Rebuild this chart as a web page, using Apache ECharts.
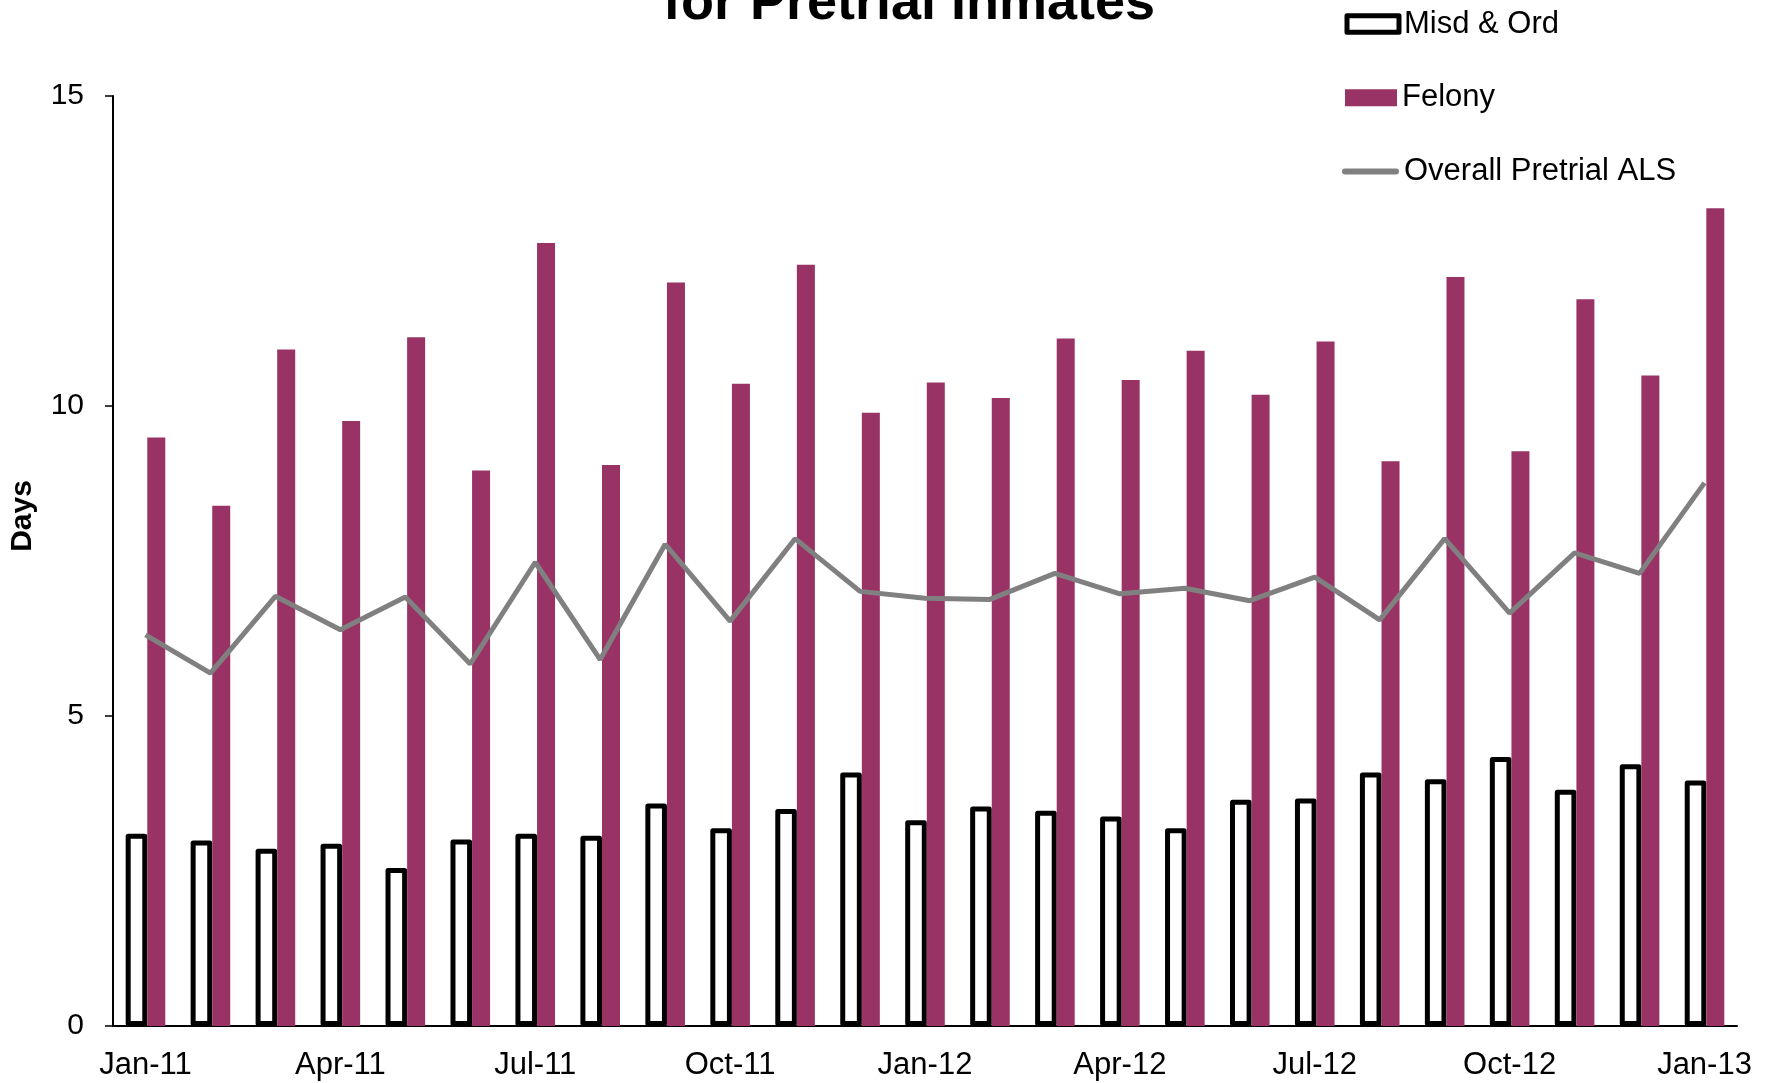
<!DOCTYPE html>
<html>
<head>
<meta charset="utf-8">
<script src="https://cdn.jsdelivr.net/npm/echarts@6/dist/echarts.min.js"></script>
<style>
  html, body { margin: 0; padding: 0; background: #fff; }
  #chart { width: 1774px; height: 1083px; }
</style>
</head>
<body>
<div id="chart"></div>
<script>
// months shown on the x axis (one bar pair per month)
const months = [
  'Jan-11', 'Feb-11', 'Mar-11', 'Apr-11', 'May-11', 'Jun-11', 'Jul-11', 'Aug-11', 'Sep-11', 'Oct-11', 'Nov-11', 'Dec-11',
  'Jan-12', 'Feb-12', 'Mar-12', 'Apr-12', 'May-12', 'Jun-12', 'Jul-12', 'Aug-12', 'Sep-12', 'Oct-12', 'Nov-12', 'Dec-12',
  'Jan-13'
]

const misdOrd = [3.10, 2.99, 2.86, 2.94, 2.55, 3.01, 3.10, 3.07, 3.59, 3.19, 3.50, 4.09,
  3.32, 3.54, 3.47, 3.38, 3.19, 3.65, 3.67, 4.09, 3.98, 4.34, 3.81, 4.22, 3.96]

const felony = [9.49, 8.39, 10.91, 9.76, 11.11, 8.96, 12.63, 9.05, 11.99, 10.36, 12.28, 9.89,
  10.38, 10.13, 11.09, 10.42, 10.89, 10.18, 11.04, 9.11, 12.08, 9.27, 11.72, 10.49, 13.19]

const overall = [6.31, 5.69, 6.93, 6.39, 6.92, 5.84, 7.48, 5.91, 7.77, 6.53, 7.86, 7.01,
  6.90, 6.88, 7.30, 6.97, 7.06, 6.86, 7.24, 6.55, 7.86, 6.66, 7.63, 7.30, 8.76]

const font = 'Liberation Sans, Arial, sans-serif'

const myChart = echarts.init(document.getElementById('chart'))

// legend text, shared by the three legend blocks
const legendText = {
  color: '#000',
  fontFamily: font,
  fontSize: 31,
  lineHeight: 30
}

const option = {
  animation: false,
  title: {
    text: 'for Pretrial Inmates',
    left: 904,
    textAlign: 'center',
    top: -28,
    textStyle: {
      color: '#000',
      fontFamily: font,
      fontWeight: 'bold',
      fontSize: 54
    }
  },
  // one legend per item so each icon can have its own size
  legend: [
    {
      left: 1344.5,
      top: 8.5,
      padding: 0,
      itemWidth: 52,
      itemHeight: 16.6,
      icon: 'rect',
      itemStyle: { color: '#fff', borderColor: '#000', borderWidth: 5, borderJoin: 'round' },
      textStyle: legendText,
      data: ['Misd & Ord']
    },
    {
      left: 1345,
      top: 82.2,
      padding: 0,
      itemWidth: 52,
      itemHeight: 17,
      icon: 'rect',
      textStyle: legendText,
      data: ['Felony']
    },
    {
      left: 1342,
      top: 156,
      padding: 0,
      itemWidth: 57,
      itemHeight: 6,
      icon: 'path://M3,0 L54,0 A3,3 0 0 1 54,6 L3,6 A3,3 0 0 1 3,0 Z',
      itemStyle: { color: '#808080' },
      textStyle: legendText,
      data: ['Overall Pretrial ALS']
    }
  ],
  graphic: [
    {
      type: 'text',
      x: 23,
      y: 516,
      rotation: Math.PI / 2,
      style: {
        text: 'Days',
        fill: '#000',
        font: 'bold 30px ' + font,
        align: 'center',
        verticalAlign: 'middle'
      }
    }
  ],
  grid: {
    left: 113,
    right: 37,
    top: 96,
    bottom: 57,
    containLabel: false
  },
  xAxis: {
    type: 'category',
    data: months,
    boundaryGap: true,
    axisLine: { lineStyle: { color: '#000', width: 2 } },
    axisTick: { interval: 2, length: 8, lineStyle: { color: '#000', width: 1.5 } },
    axisLabel: {
      interval: 2,
      color: '#000',
      fontFamily: font,
      fontSize: 31,
      margin: 24
    }
  },
  yAxis: {
    type: 'value',
    min: 0,
    max: 15,
    interval: 5,
    splitLine: { show: false },
    axisLine: { show: true, lineStyle: { color: '#000', width: 2 } },
    axisTick: { show: true, length: 8, lineStyle: { color: '#000', width: 1.5 } },
    axisLabel: {
      color: '#000',
      fontFamily: font,
      fontSize: 30,
      margin: 29
    }
  },
  series: [
    {
      name: 'Misd & Ord',
      type: 'bar',
      data: misdOrd,
      barWidth: 21.6,
      barGap: 0,
      itemStyle: {
        color: '#fff',
        borderColor: '#000',
        borderWidth: 5,
        borderJoin: 'round'
      }
    },
    {
      name: 'Felony',
      type: 'bar',
      data: felony,
      barWidth: 18,
      itemStyle: {
        color: '#993366'
      }
    },
    {
      name: 'Overall Pretrial ALS',
      type: 'line',
      data: overall,
      symbol: 'none',
      z: 5,
      lineStyle: {
        color: '#808080',
        width: 5
      },
      itemStyle: {
        color: '#808080'
      }
    }
  ]
}

myChart.setOption(option)

window.addEventListener('resize', () => {
  myChart.resize()
})
</script>
</body>
</html>
